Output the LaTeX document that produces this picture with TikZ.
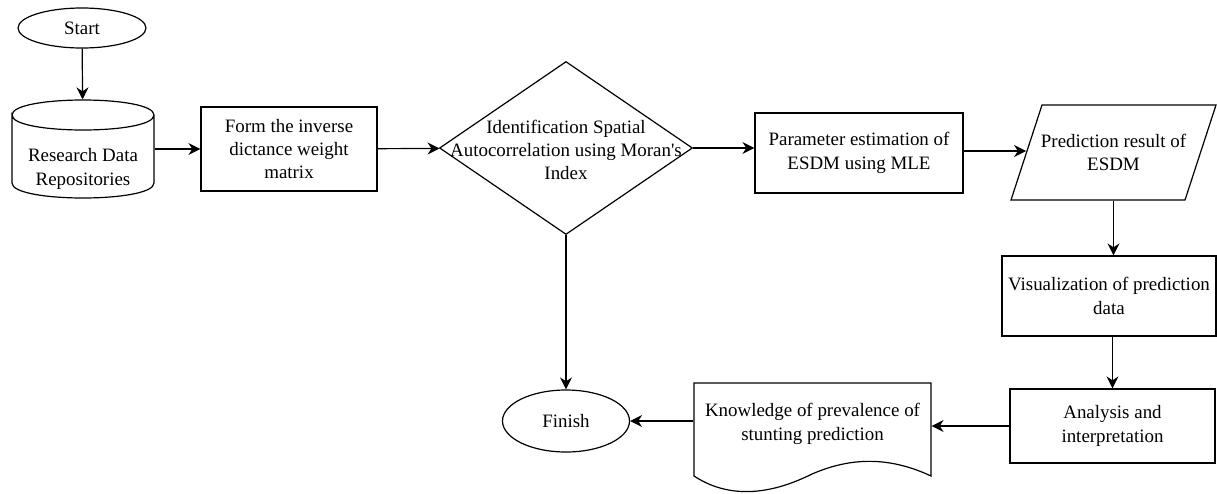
\documentclass[tikz,border=0pt]{standalone}
\usepackage{fontspec}
\setmainfont{Liberation Serif}
\usetikzlibrary{positioning,shapes.geometric,arrows.meta}

\begin{document}
\begin{tikzpicture}
            [x=0.75pt,y=-0.75pt,line width=0.9pt,>={Stealth[length=9pt,width=9pt]},
             every node/.style={align=center, inner sep=0pt, font=\fontsize{14.2}{17.5}\selectfont},
             process/.style={draw, rectangle},
             terminal/.style={draw, ellipse},
             decision/.style={draw, diamond}]
          \useasboundingbox (0,0) rectangle (1217,493);

          \node[terminal, minimum width=96pt, minimum height=30pt] (start) at (82,28) {Start};
          \node[minimum width=106.5pt, minimum height=73.5pt] (repo) at (83,149) {};
          \node (repotext) at (83,169) {Research Data\\Repositories};
          \node[process, minimum width=132pt, minimum height=63pt] (weight) at (289,149) {Form the inverse\\dictance weight\\matrix};
          \node[decision, minimum width=189.75pt, minimum height=129.75pt] (moran) at (566,148) {};
          \node (morantext) at (566,150) {Identification Spatial\\Autocorrelation using Moran\textquotesingle s\\Index};
          \node[process, minimum width=156pt, minimum height=60pt] (mle) at (859,153) {Parameter estimation of\\ESDM using MLE};
          \node[minimum width=153.75pt, minimum height=71.25pt] (result) at (1113.5,152.5) {Prediction result of\\ESDM};
          \coordinate (resultin) at (1026,151);
          \node[process, minimum width=160.5pt, minimum height=60pt] (viz) at (1109,296) {Visualization of prediction\\data};
          \node[process, minimum width=153.75pt, minimum height=55.5pt] (analysis) at (1112.5,426) {Analysis and\\interpretation};
          \node[minimum width=177.75pt, minimum height=61.5pt] (doc) at (812.5,424) {Knowledge of prevalence of\\stunting prediction};
          \node[terminal, minimum width=95.25pt, minimum height=46.5pt] (finish) at (566,421) {Finish};

          % database, data and document outlines
          \draw (12,115) .. controls (12,95) and (154,95) .. (154,115) .. controls (154,135) and (12,135) .. (12,115)
                -- (12,183) .. controls (12,203) and (154,203) .. (154,183) -- (154,115);
          \draw (1042,105) -- (1216,105) -- (1185,200) -- (1011,200) -- cycle;
          \draw (694,383) -- (931,383) -- (931,476) .. controls (880,452) and (840,462) .. (812,474)
                .. controls (780,490) and (735,503) .. (694,476) -- cycle;

          \foreach \from/\to in {start/repo, repo/weight, weight/moran, moran/finish}
            \draw (\from) edge[->] (\to);

          \draw[->] (moran.east) -- (moran.east -| mle.west);
          \draw[->] (mle.east |- resultin) -- (resultin);
          \draw[->] (result.south) -- (result.south |- viz.north);
          \draw[->] (analysis.north |- viz.south) -- (analysis.north);
          \draw[->] (analysis.west) -- (analysis.west -| doc.east);
          \draw[->] (doc.west |- finish.east) -- (finish.east);
        \end{tikzpicture}
\end{document}
